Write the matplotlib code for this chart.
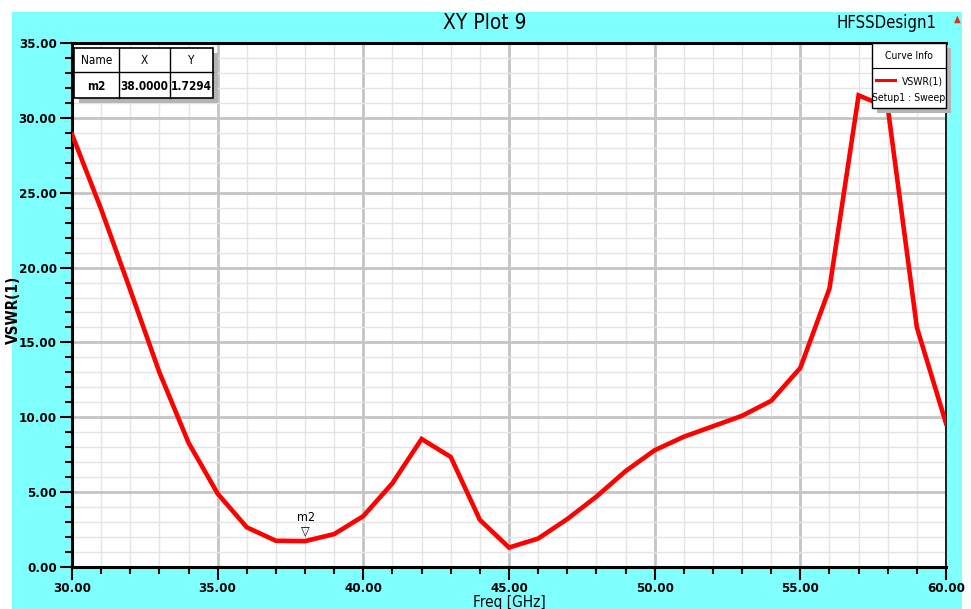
"""
HFSS style XY plot of VSWR(1) vs frequency
"""

import matplotlib
matplotlib.use('Agg')
import matplotlib.pyplot as plt
from matplotlib.patches import Rectangle
from matplotlib.lines import Line2D
from matplotlib.ticker import MultipleLocator, FormatStrFormatter
from matplotlib.transforms import Affine2D

# data
freq = [30, 31, 32, 33, 34, 35, 36, 37, 38, 39, 40, 41, 42, 43, 44, 45,
        46, 47, 48, 49, 50, 51, 52, 53, 54, 55, 56, 57, 58, 59, 60]
vswr = [28.9, 23.9, 18.5, 13.0, 8.3, 4.9, 2.65, 1.75, 1.7294, 2.2, 3.4,
        5.6, 8.55, 7.35, 3.15, 1.3, 1.9, 3.2, 4.7, 6.4, 7.8, 8.7, 9.4,
        10.1, 11.1, 13.3, 18.6, 31.5, 30.7, 16.0, 9.6]
marker_name = 'm2'
marker_x = 38.0
marker_y = 1.7294
table_header = ['Name', 'X', 'Y']
table_row = [marker_name, '%.4f' % marker_x, '%.4f' % marker_y]

# condensed face looks closest to the narrow HFSS font
plt.rcParams['font.family'] = ['DejaVu Sans']
plt.rcParams['font.stretch'] = 'condensed'

W, H = 971, 609
fig = plt.figure(figsize=(W / 100, H / 100), dpi=100)
fig.patch.set_facecolor('white')
# pixel coords measured from the top-left corner
px = Affine2D().scale(1.0 / W, -1.0 / H).translate(0, 1) + fig.transFigure

CYAN = '#80ffff'
SHADOW = '#b4b4b4'

# cyan frame behind everything
fig.patches.append(Rectangle((12, 12), 950, 597, transform=px, facecolor=CYAN,
                             edgecolor='none', zorder=-5))

L, R, T, B = 72, 946, 43, 567
ax = fig.add_axes([L / W, 1 - B / H, (R - L) / W, (B - T) / H])
ax.set_facecolor('white')

ax.plot(freq, vswr, color='red', linewidth=3.3, solid_joinstyle='miter', zorder=3)

ax.set_xlim(30, 60)
ax.set_ylim(0, 35)
ax.xaxis.set_major_locator(MultipleLocator(5))
ax.xaxis.set_minor_locator(MultipleLocator(1))
ax.yaxis.set_major_locator(MultipleLocator(5))
ax.yaxis.set_minor_locator(MultipleLocator(1))
ax.xaxis.set_major_formatter(FormatStrFormatter('%.2f'))
ax.yaxis.set_major_formatter(FormatStrFormatter('%.2f'))
ax.grid(which='major', color='#c4c4c4', linewidth=2.0, zorder=0)
ax.grid(which='minor', color='#e4e4e4', linewidth=1.0, zorder=0)
ax.set_axisbelow(True)

ax.tick_params(which='major', direction='out', length=9, width=1.5, colors='black',
               labelsize=9.5)
ax.tick_params(which='minor', direction='out', length=5, width=1.5, colors='black')
ax.tick_params(axis='x', pad=2)
ax.tick_params(axis='y', pad=2)
for lab in ax.get_xticklabels() + ax.get_yticklabels():
    lab.set_fontweight('bold')

for side in ['left', 'bottom', 'top']:
    ax.spines[side].set_linewidth(2.2)
ax.spines['right'].set_linewidth(1.2)

# axis labels
fig.text(509, 602, 'Freq [GHz]', transform=px, ha='center', va='center', fontsize=11)
fig.text(13, 310, 'VSWR(1)', transform=px, ha='center', va='center', rotation=90,
         fontsize=11, fontweight='bold')

# title and design name
fig.text(485, 23, 'XY Plot 9', transform=px, ha='center', va='center', fontsize=15)
fig.text(936, 23, 'HFSSDesign1', transform=px, ha='right', va='center', fontsize=12)
fig.text(957, 19, '\u25b2', transform=px, ha='center', va='center', fontsize=7,
         color='#e03020')

# marker on the curve
ax.annotate('\u25bd', xy=(marker_x, marker_y), xytext=(0, 2), textcoords='offset points',
            ha='center', va='bottom', fontsize=9, zorder=4)
ax.annotate(marker_name, xy=(marker_x, marker_y), xytext=(1, 12), textcoords='offset points',
            ha='center', va='bottom', fontsize=9, zorder=4)

# marker table (top left)
tx0, tx1, ty0, ty1 = 74, 213, 48, 98
fig.patches.append(Rectangle((tx0 + 5, ty0 + 5), tx1 - tx0, ty1 - ty0, transform=px,
                             facecolor=SHADOW, edgecolor='none', zorder=5))
fig.patches.append(Rectangle((tx0, ty0), tx1 - tx0, ty1 - ty0, transform=px,
                             facecolor='white', edgecolor='black', linewidth=1.2, zorder=6))
col_edges = [tx0, 119, 170, tx1]
fig.lines.append(Line2D([tx0, tx1], [72, 72], transform=px, color='black', lw=1.0, zorder=7))
for cx in col_edges[1:-1]:
    fig.lines.append(Line2D([cx, cx], [ty0, ty1], transform=px, color='black', lw=1.0, zorder=7))
for i in range(3):
    cx = (col_edges[i] + col_edges[i + 1]) / 2
    fig.text(cx, 60, table_header[i], transform=px, ha='center', va='center',
             fontsize=8.5, zorder=8)
    fig.text(cx, 86, table_row[i], transform=px, ha='center', va='center',
             fontsize=8.5, fontweight='bold', zorder=8)

# curve info box (top right)
lx0, lx1, ly0, ly1 = 872, 946, 43, 108
fig.patches.append(Rectangle((lx0 + 5, ly0 + 5), lx1 - lx0, ly1 - ly0, transform=px,
                             facecolor=SHADOW, edgecolor='none', zorder=5))
fig.patches.append(Rectangle((lx0, ly0), lx1 - lx0, ly1 - ly0, transform=px,
                             facecolor='white', edgecolor='black', linewidth=1.0, zorder=6))
fig.lines.append(Line2D([lx0, lx1], [68, 68], transform=px, color='black', lw=0.8, zorder=7))
fig.text(909, 56, 'Curve Info', transform=px, ha='center', va='center', fontsize=7.5, zorder=8)
fig.lines.append(Line2D([876, 895], [80, 80], transform=px, color='red', lw=2.2, zorder=8))
fig.text(943, 81, 'VSWR(1)', transform=px, ha='right', va='center', fontsize=7.5, zorder=8)
fig.text(909, 98, 'Setup1 : Sweep', transform=px, ha='center', va='center', fontsize=7.5, zorder=8)

plt.savefig('out.png', dpi=100)
